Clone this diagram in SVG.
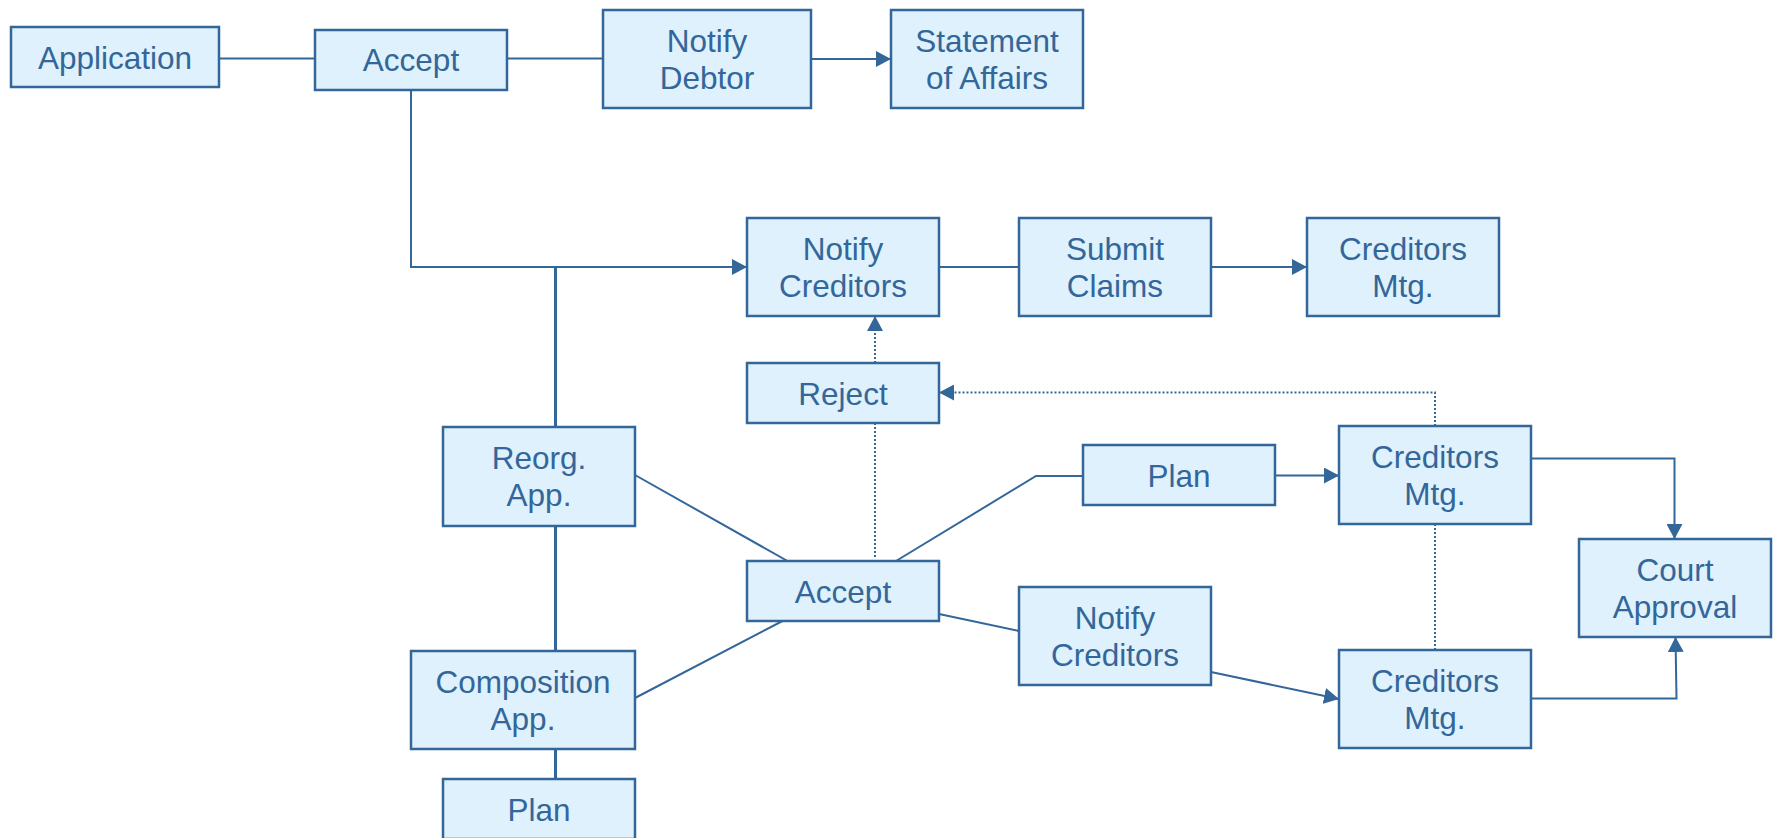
<svg xmlns="http://www.w3.org/2000/svg" width="1773" height="838" viewBox="0 0 1773 838">
  <style>
    .box { fill: #DEF1FC; stroke: #336699; stroke-width: 2.5; }
    .lbl { font-family: "Liberation Sans", Arial, sans-serif; font-size: 31.5px; fill: #336699; text-anchor: middle; }
    .ln { fill: none; stroke: #336699; stroke-width: 2; }
    .thick { stroke-width: 3; }
    .dot { stroke-dasharray: 2 2; }
    .arr { marker-end: url(#head); }
  </style>
  <defs>
    <marker id="head" markerUnits="userSpaceOnUse" markerWidth="15" markerHeight="16" refX="15" refY="8" orient="auto">
      <path d="M0,0 L15,8 L0,16 Z" fill="#336699"/>
    </marker>
  </defs>
  <rect width="1773" height="838" fill="#FFFFFF"/>

  <g id="connectors">
    <!-- top row -->
    <path class="ln" d="M219,58.5 H315"/>
    <path class="ln" d="M507,58.5 H603"/>
    <path class="ln arr" d="M811,59 H891"/>
    <!-- accept down to notify creditors -->
    <path class="ln arr" d="M411,90 V267 H747"/>
    <path class="ln" d="M939,267 H1019"/>
    <path class="ln arr" d="M1211,267 H1307"/>
    <!-- main vertical spine -->
    <path class="ln thick" d="M555.5,267 V427"/>
    <path class="ln thick" d="M555.5,526 V651"/>
    <path class="ln thick" d="M555.5,749 V779"/>
    <!-- applications into accept -->
    <path class="ln" d="M635,475 L787.5,561"/>
    <path class="ln" d="M635,698 L782.5,621"/>
    <!-- accept outputs -->
    <path class="ln" d="M896,561 L1036,476 H1083"/>
    <path class="ln" d="M939,614 L1019,631"/>
    <path class="ln arr" d="M1275,475.5 H1339"/>
    <path class="ln arr" d="M1211,672 L1339,699"/>
    <!-- to court approval -->
    <path class="ln arr" d="M1531,458.5 H1674.5 V539"/>
    <path class="ln arr" d="M1531,698.5 H1676.5 L1675.5,637"/>
    <!-- rejection paths -->
    <path class="ln dot" d="M875,557 V423"/>
    <path class="ln dot arr" d="M875,363 V316"/>
    <path class="ln dot arr" d="M1435,426 V392.5 H939"/>
    <path class="ln dot" d="M1435,524 V650"/>
  </g>

  <g id="application">
    <rect class="box" x="11" y="27" width="208" height="60"/>
    <text class="lbl" x="115" y="68.5">Application</text>
  </g>
  <g id="accept-top">
    <rect class="box" x="315" y="30" width="192" height="60"/>
    <text class="lbl" x="411" y="71">Accept</text>
  </g>
  <g id="notify-debtor">
    <rect class="box" x="603" y="10" width="208" height="98"/>
    <text class="lbl" x="707" y="51.5">Notify<tspan x="707" dy="37.6">Debtor</tspan></text>
  </g>
  <g id="statement-of-affairs">
    <rect class="box" x="891" y="10" width="192" height="98"/>
    <text class="lbl" x="987" y="51.5">Statement<tspan x="987" dy="37.6">of Affairs</tspan></text>
  </g>
  <g id="notify-creditors-1">
    <rect class="box" x="747" y="218" width="192" height="98"/>
    <text class="lbl" x="843" y="259.5">Notify<tspan x="843" dy="37.6">Creditors</tspan></text>
  </g>
  <g id="submit-claims">
    <rect class="box" x="1019" y="218" width="192" height="98"/>
    <text class="lbl" x="1115" y="259.5">Submit<tspan x="1115" dy="37.6">Claims</tspan></text>
  </g>
  <g id="creditors-mtg-1">
    <rect class="box" x="1307" y="218" width="192" height="98"/>
    <text class="lbl" x="1403" y="259.5">Creditors<tspan x="1403" dy="37.6">Mtg.</tspan></text>
  </g>
  <g id="reject">
    <rect class="box" x="747" y="363" width="192" height="60"/>
    <text class="lbl" x="843" y="404.5">Reject</text>
  </g>
  <g id="reorg-app">
    <rect class="box" x="443" y="427" width="192" height="99"/>
    <text class="lbl" x="539" y="468.5">Reorg.<tspan x="539" dy="37.6">App.</tspan></text>
  </g>
  <g id="plan-1">
    <rect class="box" x="1083" y="445" width="192" height="60"/>
    <text class="lbl" x="1179" y="486.5">Plan</text>
  </g>
  <g id="creditors-mtg-2">
    <rect class="box" x="1339" y="426" width="192" height="98"/>
    <text class="lbl" x="1435" y="467.5">Creditors<tspan x="1435" dy="37.6">Mtg.</tspan></text>
  </g>
  <g id="court-approval">
    <rect class="box" x="1579" y="539" width="192" height="98"/>
    <text class="lbl" x="1675" y="580.5">Court<tspan x="1675" dy="37.6">Approval</tspan></text>
  </g>
  <g id="accept-mid">
    <rect class="box" x="747" y="561" width="192" height="60"/>
    <text class="lbl" x="843" y="602.5">Accept</text>
  </g>
  <g id="notify-creditors-2">
    <rect class="box" x="1019" y="587" width="192" height="98"/>
    <text class="lbl" x="1115" y="628.5">Notify<tspan x="1115" dy="37.6">Creditors</tspan></text>
  </g>
  <g id="composition-app">
    <rect class="box" x="411" y="651" width="224" height="98"/>
    <text class="lbl" x="523" y="692.5">Composition<tspan x="523" dy="37.6">App.</tspan></text>
  </g>
  <g id="creditors-mtg-3">
    <rect class="box" x="1339" y="650" width="192" height="98"/>
    <text class="lbl" x="1435" y="691.5">Creditors<tspan x="1435" dy="37.6">Mtg.</tspan></text>
  </g>
  <g id="plan-2">
    <rect class="box" x="443" y="779" width="192" height="60"/>
    <text class="lbl" x="539" y="820.5">Plan</text>
  </g>
</svg>
